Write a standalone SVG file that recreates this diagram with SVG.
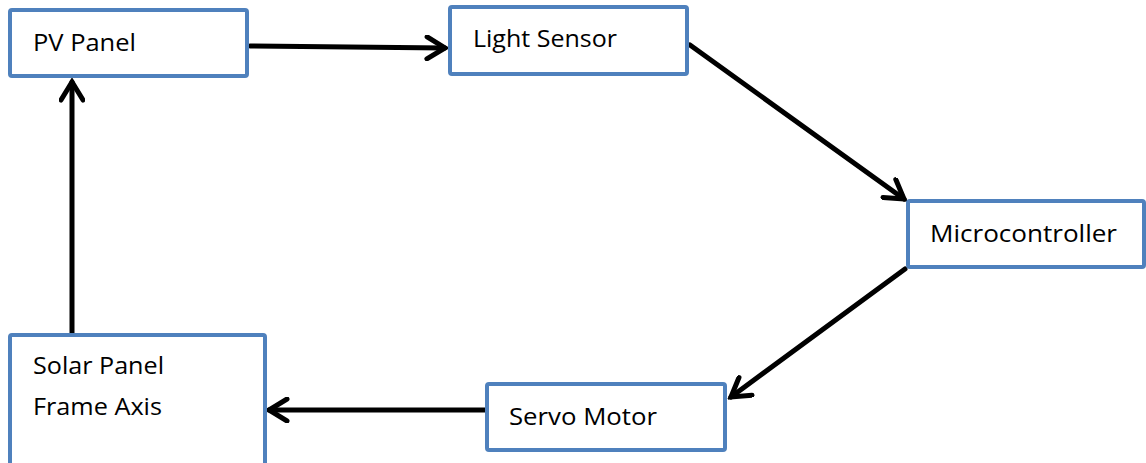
<svg xmlns="http://www.w3.org/2000/svg" width="1146" height="463" viewBox="0 0 1146 463">
  <style>
    .box { fill: #ffffff; stroke: #4f81bd; stroke-width: 4; }
    .label { font-family: "Open Sans", "Liberation Sans", sans-serif; font-size: 24px; fill: #000000; }
    .conn { stroke: #000000; stroke-width: 5; fill: none; stroke-linecap: round; }
  </style>
  <defs>
    <marker id="chev" markerUnits="userSpaceOnUse" viewBox="0 0 26 26" markerWidth="26" markerHeight="26" refX="22" refY="13" orient="auto">
      <path d="M4,2 L22,13 L4,24" fill="none" stroke="#000000" stroke-width="5" stroke-linecap="round" stroke-linejoin="miter"/>
    </marker>
  </defs>
  <rect width="1146" height="463" fill="#ffffff"/>

  <g id="connectors">
    <line class="conn" x1="250" y1="46" x2="445" y2="48" marker-end="url(#chev)"/>
    <line class="conn" x1="690" y1="45" x2="904" y2="199" marker-end="url(#chev)"/>
    <line class="conn" x1="905" y1="269" x2="731" y2="397" marker-end="url(#chev)"/>
    <line class="conn" x1="485" y1="410" x2="269" y2="410" marker-end="url(#chev)"/>
    <line class="conn" x1="72" y1="333" x2="72" y2="82" marker-end="url(#chev)"/>
  </g>

  <g id="pv-panel">
    <rect class="box" x="10" y="10" width="237" height="66" rx="2"/>
    <text class="label" x="33" y="51" textLength="103" lengthAdjust="spacingAndGlyphs">PV Panel</text>
  </g>

  <g id="light-sensor">
    <rect class="box" x="450" y="7" width="237" height="67" rx="2"/>
    <text class="label" x="473" y="47" textLength="144" lengthAdjust="spacingAndGlyphs">Light Sensor</text>
  </g>

  <g id="microcontroller">
    <rect class="box" x="908" y="201" width="236" height="66" rx="2"/>
    <text class="label" x="930" y="242" textLength="187" lengthAdjust="spacingAndGlyphs">Microcontroller</text>
  </g>

  <g id="servo-motor">
    <rect class="box" x="487" y="384" width="238" height="66" rx="2"/>
    <text class="label" x="509" y="425" textLength="148" lengthAdjust="spacingAndGlyphs">Servo Motor</text>
  </g>

  <g id="solar-frame">
    <rect class="box" x="10" y="335" width="255" height="140" rx="2"/>
    <text class="label" x="33" y="374" textLength="131" lengthAdjust="spacingAndGlyphs">Solar Panel</text>
    <text class="label" x="33" y="415" textLength="129" lengthAdjust="spacingAndGlyphs">Frame Axis</text>
  </g>
</svg>
